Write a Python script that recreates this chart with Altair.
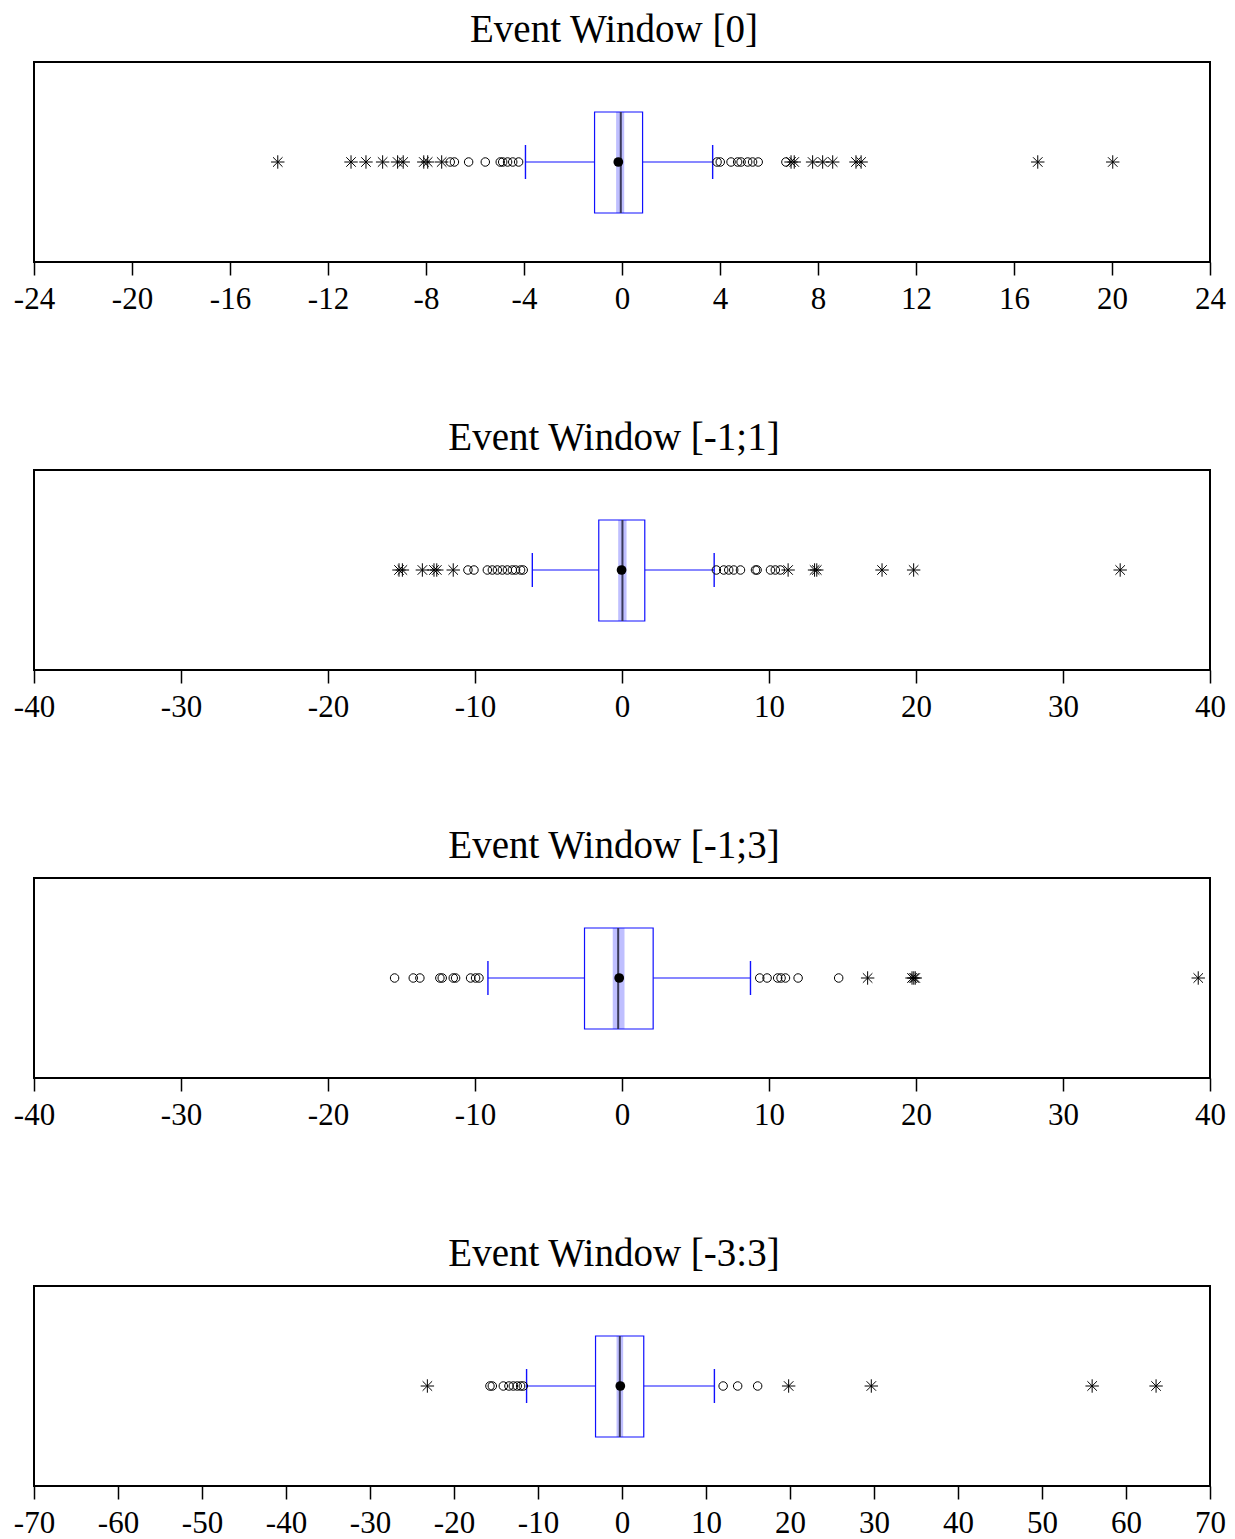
import altair as alt
import pandas as pd

# ---------------- data ----------------
TITLES = ["Event Window [0]", "Event Window [-1;1]", "Event Window [-1;3]", "Event Window [-3:3]"]
DOMAINS = [(-24, 24), (-40, 40), (-40, 40), (-70, 70)]
TICKS = [list(range(-24, 25, 4)), list(range(-40, 41, 10)),
         list(range(-40, 41, 10)), list(range(-70, 71, 10))]

Q1 = [-1.12, -1.58, -2.55, -3.15]
MEDIAN = [-0.05, 0.03, -0.26, -0.26]
Q3 = [0.84, 1.55, 2.12, 2.59]
WHISK_LO = [-3.94, -6.10, -9.12, -11.36]
WHISK_HI = [3.70, 6.27, 8.74, 11.00]
MEAN = [-0.15, -0.03, -0.19, -0.20]
CI_LO = [-0.24, -0.26, -0.63, -0.65]
CI_HI = [0.09, 0.31, 0.17, 0.14]

MILD_0 = [-7.01, -6.84, -6.26, -5.58, -4.97, -4.87, -4.67, -4.46, -4.22,
          3.88, 4.01, 4.45, 4.72, 4.86, 5.13, 5.33, 5.56, 6.69]
EXTREME_0 = [-14.05, -11.06, -10.45, -9.77, -9.16, -8.93, -8.09, -7.93, -7.36,
             6.90, 7.03, 7.78, 8.19, 8.60, 9.55, 9.76, 16.97, 20.03]

MILD_1 = [-10.48, -10.07, -9.16, -8.82, -8.48, -8.14, -7.80, -7.46, -7.24, -6.90, -6.72,
          6.42, 6.92, 7.26, 7.60, 8.06, 9.08, 9.19, 10.10, 10.43, 10.77]
EXTREME_1 = [-15.17, -14.94, -13.58, -12.79, -12.60, -11.48,
             11.30, 13.10, 13.25, 17.69, 19.84, 33.89]

MILD_2 = [-15.47, -14.20, -13.75, -12.39, -12.23, -11.48, -11.32, -10.30, -9.96, -9.73,
          9.37, 9.87, 10.59, 10.82, 11.12, 11.98, 14.74]
EXTREME_2 = [16.71, 19.73, 19.85, 19.95, 39.20]

MILD_3 = [-15.72, -15.44, -14.13, -13.46, -12.94, -12.47, -12.07, -11.75,
          12.04, 13.77, 16.15]
EXTREME_3 = [-23.17, 19.84, 29.68, 55.97, 63.58]

MILD = [MILD_0, MILD_1, MILD_2, MILD_3]
EXTREME = [EXTREME_0, EXTREME_1, EXTREME_2, EXTREME_3]

# ---------------- styling ----------------
SERIF = "Liberation Serif"
BLUE = "#1010ff"
STAR = "M-1,0L1,0M0,-1L0,1M-0.71,-0.71L0.71,0.71M-0.71,0.71L0.71,-0.71"
YS = alt.Scale(domain=[0, 1])


def ydatum(v):
    return alt.YDatum(v, scale=YS, axis=None)


def panel(i):
    xs = alt.Scale(domain=list(DOMAINS[i]), nice=False, zero=False)
    xaxis = alt.Axis(values=TICKS[i], title=None, labelExpr="'' + datum.value")

    stats = pd.DataFrame({"q1": [Q1[i]], "med": [MEDIAN[i]], "q3": [Q3[i]],
                          "lo": [WHISK_LO[i]], "hi": [WHISK_HI[i]],
                          "mean": [MEAN[i]], "cl": [CI_LO[i]], "ch": [CI_HI[i]]})
    whisk = pd.DataFrame({"a": [WHISK_LO[i], Q3[i]], "b": [Q1[i], WHISK_HI[i]]})
    caps = pd.DataFrame({"v": [WHISK_LO[i], WHISK_HI[i]]})
    mild = pd.DataFrame({"v": MILD[i]})
    extreme = pd.DataFrame({"v": EXTREME[i]})

    w = alt.Chart(whisk).mark_rule(color=BLUE, strokeWidth=1.2).encode(
        x=alt.X("a:Q", scale=xs, axis=xaxis), x2="b:Q", y=ydatum(0.5))
    c = alt.Chart(caps).mark_rule(color=BLUE, strokeWidth=1.4).encode(
        x=alt.X("v:Q", scale=xs, axis=xaxis), y=ydatum(0.415), y2=alt.Y2Datum(0.585))
    box = alt.Chart(stats).mark_rect(fill="white", stroke=BLUE, strokeWidth=1.2).encode(
        x=alt.X("q1:Q", scale=xs, axis=xaxis), x2="q3:Q", y=ydatum(0.245), y2=alt.Y2Datum(0.75))
    band = alt.Chart(stats).mark_rect(fill="#0000ff", opacity=0.25).encode(
        x=alt.X("cl:Q", scale=xs, axis=xaxis), x2="ch:Q", y=ydatum(0.245), y2=alt.Y2Datum(0.75))
    med = alt.Chart(stats).mark_rule(color="#3a3a5a", strokeWidth=2).encode(
        x=alt.X("med:Q", scale=xs, axis=xaxis), y=ydatum(0.245), y2=alt.Y2Datum(0.75))
    mean = alt.Chart(stats).mark_point(shape="circle", filled=True, color="black",
                                       size=95, opacity=1).encode(
        x=alt.X("mean:Q", scale=xs, axis=xaxis), y=ydatum(0.5))
    circ = alt.Chart(mild).mark_point(shape="circle", filled=False, color="black",
                                      size=72, strokeWidth=1, opacity=1).encode(
        x=alt.X("v:Q", scale=xs, axis=xaxis), y=ydatum(0.5))
    stars = alt.Chart(extreme).mark_point(shape=STAR, filled=False, color="black",
                                          size=180, strokeWidth=1, opacity=1).encode(
        x=alt.X("v:Q", scale=xs, axis=xaxis), y=ydatum(0.5))

    return alt.layer(w, c, box, band, med, circ, stars, mean).properties(
        width=1176, height=200,
        title=alt.TitleParams(TITLES[i], font=SERIF, fontSize=39, fontWeight="normal",
                              color="black", anchor="middle", baseline="bottom",
                              offset=-27, dx=-8))


chart = alt.vconcat(*[panel(i) for i in range(4)], spacing=103).properties(
    padding={"left": 4, "top": 2, "right": 0, "bottom": 0}
).configure_view(stroke="black", strokeWidth=2).configure_axis(
    domain=False, grid=False, ticks=True, tickColor="black", tickSize=13, tickWidth=1.5,
    labelFont=SERIF, labelFontSize=31, labelColor="black", labelPadding=9,
    labelFlush=False, labelOverlap=False
)

chart.save("out.html", embed_options={"renderer": "svg", "actions": False})
